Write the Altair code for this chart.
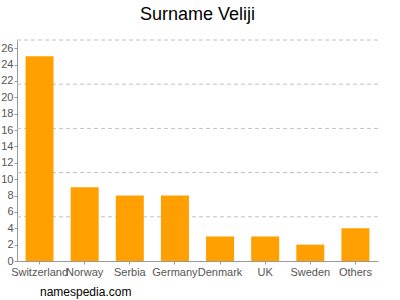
import altair as alt
import pandas as pd

countries = ["Switzerland", "Norway", "Serbia", "Germany", "Denmark", "UK", "Sweden", "Others"]
counts = [25, 9, 8, 8, 3, 3, 2, 4]
grid_values = [5.4, 10.8, 16.2, 21.6, 27]
tick_values = list(range(0, 27, 2))

df = pd.DataFrame({"country": countries, "count": counts})
grid_df = pd.DataFrame({"count": grid_values})

FONT = "Liberation Sans"
GRAY = "#555555"

y_scale = alt.Scale(domain=[0, 27], nice=False)
y_axis = alt.Axis(title=None, values=tick_values, grid=False, labelFont=FONT,
                  labelFontSize=11, labelColor=GRAY, tickSize=3,
                  tickColor="#999999", domainColor="#999999", labelPadding=1)

grid = alt.Chart(grid_df).mark_rule(color="#c0c0c0", strokeDash=[4, 3], strokeWidth=1).encode(
    y=alt.Y("count:Q", scale=y_scale, axis=y_axis)
)

bars = alt.Chart(df).mark_bar(color="#ffa000").encode(
    x=alt.X("country:N", sort=countries,
            scale=alt.Scale(paddingInner=0.38, paddingOuter=0.19),
            axis=alt.Axis(title=None, labelAngle=0, labelFont=FONT, labelFontSize=11,
                          labelColor=GRAY, tickSize=3, tickColor="#999999",
                          domainColor="#999999", labelPadding=2)),
    y=alt.Y("count:Q", scale=y_scale, axis=y_axis),
)

footer = alt.Chart(pd.DataFrame({"t": ["namespedia.com"]})).mark_text(
    font=FONT, fontSize=12, color="#000000", align="left", baseline="middle"
).encode(text="t:N", x=alt.value(23), y=alt.value(252))

chart = alt.layer(grid, bars, footer).properties(
    width=361, height=221,
    title=alt.TitleParams("Surname Veliji", font=FONT, fontSize=18, fontWeight="normal",
                          color="#000000", anchor="middle", offset=16),
    autosize=alt.AutoSizeParams(type="none"),
    padding={"left": 17, "top": 40, "right": 22, "bottom": 39},
).configure_view(stroke=None)

chart.save("out.html", embed_options={"renderer": "svg", "actions": False})
